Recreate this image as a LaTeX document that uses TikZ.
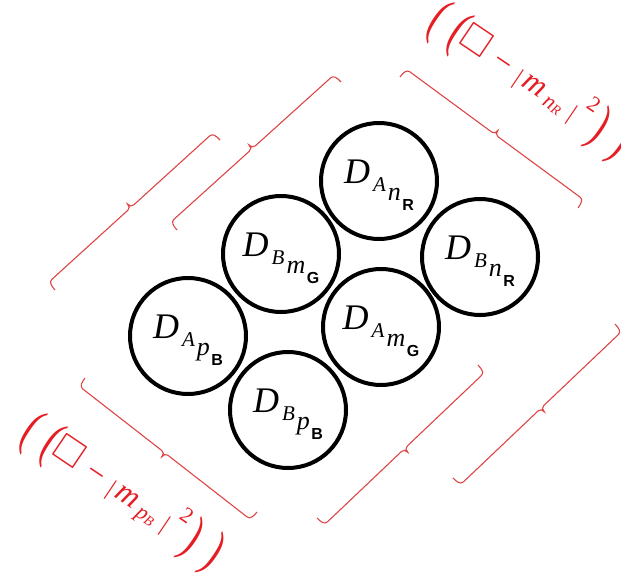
\documentclass[tikz,border=0pt]{standalone}
\usepackage{fontspec}
\usepackage{amssymb}
\usepackage{graphicx}
\setmainfont{Liberation Serif}
\setsansfont{Liberation Sans}
\usetikzlibrary{decorations.pathreplacing}

\definecolor{inkred}{RGB}{228,30,36}
\definecolor{linered}{RGB}{222,70,70}

% brace with short hooked ends and a small central cusp
\newdimen\hbL
\pgfdeclaredecoration{hookbrace}{brace}{%
  \state{brace}[width=+\pgfdecoratedremainingdistance,next state=final]{%
    \hbL=\pgfdecoratedremainingdistance
    \pgfpathmoveto{\pgfpointorigin}%
    \pgfpathcurveto{\pgfqpoint{0pt}{6pt}}{\pgfqpoint{1pt}{10pt}}{\pgfqpoint{5pt}{10pt}}%
    \pgfpathlineto{\pgfpoint{0.5\hbL-4pt}{10pt}}%
    \pgfpathcurveto{\pgfpoint{0.5\hbL-1pt}{10pt}}{\pgfpoint{0.5\hbL}{12pt}}{\pgfpoint{0.5\hbL}{15pt}}%
    \pgfpathcurveto{\pgfpoint{0.5\hbL}{12pt}}{\pgfpoint{0.5\hbL+1pt}{10pt}}{\pgfpoint{0.5\hbL+4pt}{10pt}}%
    \pgfpathlineto{\pgfpoint{\hbL-5pt}{10pt}}%
    \pgfpathcurveto{\pgfpoint{\hbL-1pt}{10pt}}{\pgfpoint{\hbL}{6pt}}{\pgfpoint{\hbL}{0pt}}%
  }%
  \state{final}{}%
}

% D with a two-level subscript (the strut sets the text a little low)
\newcommand\dlab[3]{%
  \rule{0pt}{32pt}%
  {\fontsize{36}{36}\selectfont\itshape D}\kern3pt%
  \raisebox{-8pt}{\fontsize{21}{21}\selectfont\itshape #1}\kern2pt%
  \raisebox{-17pt}{\fontsize{26}{26}\selectfont\itshape #2}\kern1.5pt%
  \raisebox{-27pt}{\fontsize{16}{16}\selectfont\sffamily\bfseries #3}}

% tall, narrow parentheses
\newcommand\lpar{\raisebox{-6pt}{\scalebox{0.65}[1]{\fontsize{55}{55}\selectfont(}}}
\newcommand\rpar{\raisebox{-6pt}{\scalebox{0.65}[1]{\fontsize{55}{55}\selectfont)}}}

% ((box - |m_{ab}|^2))
\newcommand\wlab[2]{%
  \lpar\kern12pt\lpar
  \kern-1pt{\fontsize{38}{38}\selectfont$\square$}%
  \kern10pt{\fontsize{32}{32}\selectfont −}%
  \kern10pt\raisebox{-2pt}{\fontsize{24}{24}\selectfont|}%
  \kern3pt{\fontsize{32}{32}\selectfont\itshape m}%
  \kern5pt\raisebox{-4pt}{\fontsize{22}{22}\selectfont\itshape #1}%
  \raisebox{-5pt}{\fontsize{14}{14}\selectfont\itshape #2}%
  \kern10pt\raisebox{-2pt}{\fontsize{24}{24}\selectfont|}%
  \kern4pt\raisebox{18pt}{\fontsize{22}{22}\selectfont 2}%
  \kern6pt\rpar\kern14pt\rpar}

\begin{document}
\begin{tikzpicture}[x=1pt,y=-1pt,
  disc/.style={circle, draw=black, line width=4pt, minimum size=116pt, inner sep=0pt},
  redlab/.style={text=inkred, inner sep=0pt, rotate=-34},
  hbrace/.style={draw=linered, line width=1.1pt, decorate, decoration=hookbrace}]
  \useasboundingbox (0,0) rectangle (621,585);

  % six discs on a tilted grid
  \node[disc] (anr) at (379,181) {\dlab{A}{n}{R}};
  \node[disc] (bmg) at (281,254) {\dlab{B}{m}{G}};
  \node[disc] (apb) at (188,336) {\dlab{A}{p}{B}};
  \node[disc] (bnr) at (480,257) {\dlab{B}{n}{R}};
  \node[disc] (amg) at (381,327) {\dlab{A}{m}{G}};
  \node[disc] (bpb) at (288,410) {\dlab{B}{p}{B}};

  % brace end points
  \coordinate (b1a) at (55,290);  \coordinate (b1b) at (220,140);
  \coordinate (b2a) at (177,230); \coordinate (b2b) at (341,82);
  \coordinate (b3a) at (400,77);  \coordinate (b3b) at (578,208);
  \coordinate (b4a) at (478,365); \coordinate (b4b) at (317,518);
  \coordinate (b5a) at (615,324); \coordinate (b5b) at (453,478);
  \coordinate (b6a) at (257,512); \coordinate (b6b) at (85,378);

  \draw[hbrace] (b1a) -- (b1b);
  \draw[hbrace] (b2a) -- (b2b);
  \draw[hbrace] (b3a) -- (b3b);
  \draw[hbrace] (b4a) -- (b4b);
  \draw[hbrace] (b5a) -- (b5b);
  \draw[hbrace] (b6a) -- (b6b);

  % operator labels
  \node[redlab] (optop) at (529,82) {\wlab{n}{R}};
  \node[redlab] (opbot) at (122,493) {\wlab{p}{B}};
\end{tikzpicture}
\end{document}
